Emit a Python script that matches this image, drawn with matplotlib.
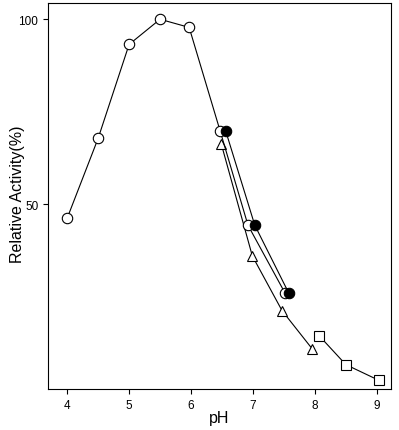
import matplotlib
matplotlib.use('Agg')
import matplotlib.pyplot as plt

plt.rcParams['font.family'] = ['Liberation Sans', 'DejaVu Sans']

# Open circles
ph_open = [4.0, 4.5, 5.0, 5.5, 5.97, 6.47, 6.92, 7.52]
act_open = [46.2, 67.8, 93.2, 100.0, 97.8, 69.8, 44.3, 25.9]

# Filled circles
ph_fill = [6.56, 7.03, 7.58]
act_fill = [69.8, 44.3, 25.9]

# Triangles
ph_tri = [6.49, 6.99, 7.47, 7.96]
act_tri = [66.2, 36.0, 21.2, 10.8]

# Squares
ph_sq = [8.07, 8.5, 9.04]
act_sq = [14.4, 6.6, 2.3]


def main():
    fig = plt.figure(figsize=(3.99, 4.31), dpi=100)
    ax = fig.add_axes([48 / 399, 1 - 390 / 431, 343 / 399, 386 / 431])

    style = dict(color='black', linewidth=0.8, markersize=7.5,
                 markeredgewidth=0.8, markeredgecolor='black')
    ax.plot(ph_tri, act_tri, marker='^', markerfacecolor='white', zorder=2, **style)
    ax.plot(ph_sq, act_sq, marker='s', markerfacecolor='white', zorder=2, **style)
    ax.plot(ph_open, act_open, marker='o', markerfacecolor='white', zorder=3, **style)
    ax.plot(ph_fill, act_fill, marker='o', markerfacecolor='black', zorder=4, **style)

    ax.set_xlim(3.69, 9.23)
    ax.set_ylim(0, 104.4)
    ax.set_xticks([4, 5, 6, 7, 8, 9])
    ax.set_yticks([50, 100])
    ax.tick_params(direction='out', length=3.5, width=0.8, labelsize=8.5)
    for sp in ax.spines.values():
        sp.set_linewidth(0.8)

    ax.set_xlabel('pH', fontsize=11.5)
    ax.set_ylabel('Relative Activity(%)', fontsize=11.5)
    ax.xaxis.set_label_coords(0.5, -0.055)
    ax.yaxis.set_label_coords(-0.068, 0.506)

    fig.savefig('out.png', dpi=100)


if __name__ == '__main__':
    main()
